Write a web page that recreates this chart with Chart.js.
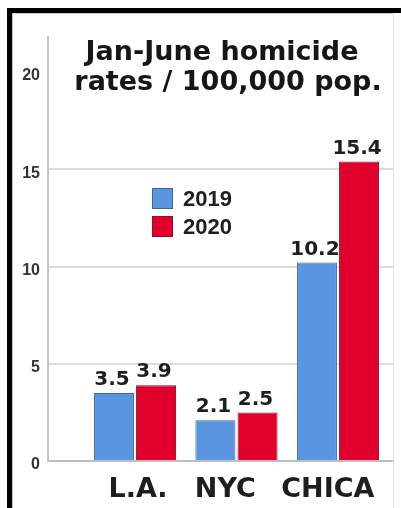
<!DOCTYPE html>
<html>
<head>
<meta charset="utf-8">
<script src="https://cdn.jsdelivr.net/npm/chart.js@4"></script>
<style>
	html, body { margin: 0; padding: 0; background: #fff; }
	#wrap { position: relative; width: 401px; height: 508px; overflow: hidden; }
	#wrap canvas { position: absolute; left: 0; top: 0; }
	.bar { position: absolute; background: #000; }
	.thin { position: absolute; background: #c8c8c8; }
</style>
</head>
<body>
<div id="wrap">
	<canvas id="chart" width="401" height="508"></canvas>
	<div class="bar" style="left:7px; top:8px; width:394px; height:5px"></div>
	<div class="bar" style="left:7px; top:8px; width:5px; height:500px"></div>
	<div class="thin" style="left:12px; top:13px; width:381px; height:1px"></div>
	<div class="thin" style="left:12px; top:13px; width:1px; height:495px"></div>
	<div class="thin" style="left:393px; top:13px; width:1px; height:495px; background:#e4e4e4"></div>
</div>
<script>
const categories = ['L.A.', 'NYC', 'CHICA'];
const rates2019 = [3.5, 2.1, 10.2];
const rates2020 = [3.9, 2.5, 15.4];
const yTicks = [0, 5, 10, 15, 20];
const titleLines = ['Jan-June homicide', 'rates / 100,000 pop.'];

const blue = '#5a95e2';
const red = '#e0002b';
// the category names in the picture sit a little off their bar pairs
const labelNudge = [0.03, -0.11, -0.1];
const xMin = -0.857, xMax = 2.542;

// values over each bar
const valueLabels = {
	id: 'valueLabels',
	afterDatasetsDraw(chart) {
		const ctx = chart.ctx;
		ctx.save();
		ctx.font = 'bold 20px "DejaVu Sans"';
		ctx.fillStyle = '#1e1e1e';
		ctx.textAlign = 'center';
		ctx.textBaseline = 'bottom';
		chart.data.datasets.forEach((ds, i) => {
			chart.getDatasetMeta(i).data.forEach((bar, j) => {
				ctx.fillText(ds.data[j].y.toFixed(1), bar.x - 2, bar.y - 3);
			});
		});
		ctx.restore();
	}
};

// title and legend sit inside the plot
const overlay = {
	id: 'overlay',
	afterDraw(chart) {
		const ctx = chart.ctx;
		const a = chart.chartArea;
		ctx.save();
		ctx.fillStyle = '#161616';
		ctx.textAlign = 'center';
		ctx.textBaseline = 'alphabetic';
		ctx.font = 'bold 27px "DejaVu Sans"';
		ctx.fillText(titleLines[0], a.left + 174, a.top + 23);
		ctx.fillText(titleLines[1], a.left + 180, a.top + 53);

		ctx.textAlign = 'left';
		ctx.textBaseline = 'middle';
		ctx.font = 'bold 22px "Liberation Sans"';
		chart.data.datasets.forEach((ds, i) => {
			const x = a.left + 104;
			const y = a.top + 151 + i * 28;
			ctx.fillStyle = ds.backgroundColor;
			ctx.strokeStyle = ds.borderColor;
			ctx.lineWidth = 1;
			ctx.fillRect(x, y, 21, 21);
			ctx.strokeRect(x + 0.5, y + 0.5, 20, 20);
			ctx.fillStyle = '#1e1e1e';
			ctx.fillText(ds.label, x + 31, y + 12);
		});
		ctx.restore();
	}
};

new Chart(document.getElementById('chart'), {
	type: 'bar',
	data: {
		datasets: [
			{
				label: '2019',
				data: rates2019.map((v, i) => ({x: i, y: v})),
				backgroundColor: blue,
				borderColor: '#3b64a0',
				borderWidth: 1,
				categoryPercentage: 0.83,
				barPercentage: 0.95,
			},
			{
				label: '2020',
				data: rates2020.map((v, i) => ({x: i, y: v})),
				backgroundColor: red,
				borderColor: '#92102a',
				borderWidth: 1,
				categoryPercentage: 0.83,
				barPercentage: 0.95,
			},
		],
	},
	options: {
		responsive: false,
		animation: false,
		layout: {
			padding: {left: 0, right: 8, top: 37, bottom: 0}
		},
		plugins: {
			legend: {display: false},
			tooltip: {enabled: false},
		},
		scales: {
			x: {
				type: 'linear',
				offset: false,
				min: xMin,
				max: xMax,
				grid: {display: false, drawTicks: false},
				border: {color: '#bdbdbd', width: 2},
				afterBuildTicks: axis => {
					axis.ticks = categories.map((c, i) => ({value: i}));
				},
				afterFit: axis => { axis.height = 0; },
				ticks: {display: false},
			},
			// second bottom axis only carries the category names
			names: {
				type: 'linear',
				position: 'bottom',
				offset: false,
				min: xMin,
				max: xMax,
				grid: {display: false, drawTicks: false},
				border: {display: false},
				afterBuildTicks: axis => {
					axis.ticks = categories.map((c, i) => ({value: i + labelNudge[i]}));
				},
				afterFit: axis => { axis.height = 47; },
				ticks: {
					autoSkip: false,
					maxRotation: 0,
					padding: 13,
					color: '#1e1e1e',
					font: {family: 'DejaVu Sans', weight: 'bold', size: 27},
					callback: v => categories[Math.round(v)],
				},
			},
			y: {
				min: 0,
				max: 21.8,
				afterBuildTicks: axis => {
					axis.ticks = yTicks.map(v => ({value: v}));
				},
				afterFit: axis => { axis.width = 48; },
				grid: {
					drawTicks: false,
					color: c => (c.tick.value === 0 || c.tick.value === 20) ? 'rgba(0,0,0,0)' : '#dcdcdc',
					lineWidth: 2,
				},
				border: {color: '#c4c4c4', width: 2},
				ticks: {
					padding: 8,
					labelOffset: 4,
					color: '#333',
					font: {family: 'Liberation Sans', weight: 'bold', size: 16},
				},
			},
		},
	},
	plugins: [valueLabels, overlay],
});
</script>
</body>
</html>
